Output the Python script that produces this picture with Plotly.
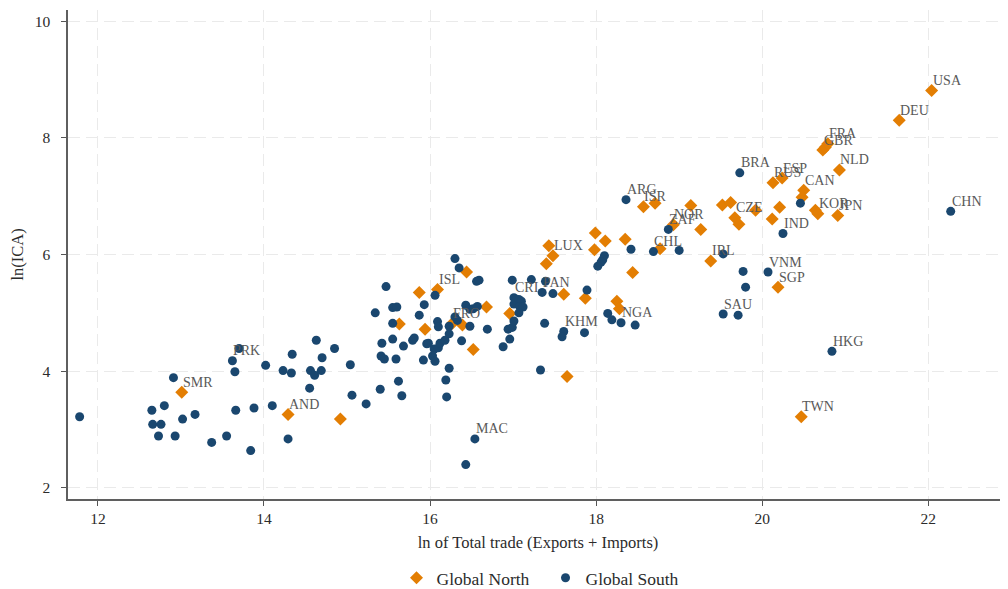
import plotly.graph_objects as go

# ---- Global North (diamonds) ----
north_x = [13.01, 14.29, 14.92, 15.63, 15.87, 15.94, 16.09, 16.44, 16.27, 16.39,
           16.68, 16.52, 16.96, 17.65, 17.43, 17.48, 17.40, 17.61, 17.87, 17.99,
           18.11, 17.98, 18.35, 18.44, 18.25, 18.28, 18.57, 18.71, 18.77, 18.93,
           19.14, 19.26, 19.38, 19.52, 19.62, 19.67, 19.72, 19.92, 20.12, 20.13,
           20.24, 20.21, 20.50, 20.48, 20.19, 20.64, 20.67, 20.91, 20.93, 20.73,
           20.76, 20.79, 21.65, 22.04, 20.47]
north_y = [3.64, 3.26, 3.18, 4.81, 5.35, 4.72, 5.40, 5.70, 4.82, 4.79,
           5.10, 4.37, 4.99, 3.91, 6.15, 5.98, 5.84, 5.32, 5.25, 6.37,
           6.23, 6.08, 6.26, 5.69, 5.20, 5.07, 6.82, 6.88, 6.10, 6.51,
           6.84, 6.43, 5.89, 6.85, 6.89, 6.63, 6.52, 6.76, 6.61, 7.23,
           7.31, 6.81, 7.10, 6.98, 5.44, 6.76, 6.70, 6.67, 7.45, 7.79,
           7.84, 7.90, 8.30, 8.81, 3.22]
north_lbl = ["SMR", "AND", "", "", "", "", "ISL", "", "FRO", "",
             "", "", "", "", "", "LUX", "", "", "", "",
             "", "", "", "", "", "", "ISR", "", "", "NOR",
             "", "", "IRL", "", "", "CZE", "", "", "", "RUS",
             "ESP", "", "CAN", "", "SGP", "", "KOR", "JPN", "NLD", "GBR",
             "", "FRA", "DEU", "USA", "TWN"]

# ---- Global South (circles) ----
south_x = [11.78, 12.91, 12.65, 12.80, 12.66, 12.76, 12.73, 12.93, 13.02, 13.17,
           13.37, 13.55, 13.84, 13.66, 13.88, 14.10, 14.29, 15.06, 13.70, 13.62,
           13.65, 14.02, 14.23, 14.34, 14.33, 14.63, 14.56, 14.61, 14.69, 14.70,
           14.55, 14.85, 15.04, 15.23, 15.40, 15.66, 15.62, 16.23, 16.19, 16.20,
           16.54, 16.43, 17.33, 15.34, 15.47, 15.55, 15.60, 15.55, 15.42, 15.55,
           15.68, 15.41, 15.45, 15.59, 15.79, 15.81, 15.87, 15.93, 15.96, 15.98,
           15.92, 16.03, 16.06, 16.05, 16.10, 16.12, 16.18, 16.23, 16.23, 16.09,
           16.10, 16.06, 16.30, 16.35, 16.56, 16.59, 16.30, 16.33, 16.43, 16.48,
           16.52, 16.57, 16.48, 16.69, 16.38, 16.88, 16.96, 16.94, 16.99, 17.01,
           16.99, 17.01, 17.04, 17.01, 17.07, 17.10, 17.08, 17.12, 17.07, 17.22,
           17.39, 17.35, 17.48, 17.89, 17.38, 17.61, 17.59, 17.86, 18.42, 18.10,
           18.08, 18.06, 18.02, 18.14, 18.19, 18.30, 18.47, 18.36, 18.69, 18.87,
           19.00, 19.53, 19.73, 20.46, 20.25, 22.27, 20.07, 19.77, 19.80, 19.53,
           19.71, 20.84]
south_y = [3.22, 3.89, 3.33, 3.41, 3.09, 3.09, 2.89, 2.89, 3.18, 3.26,
           2.78, 2.89, 2.64, 3.33, 3.37, 3.41, 2.84, 3.59, 4.39, 4.18,
           3.99, 4.10, 4.01, 4.29, 3.97, 4.53, 4.01, 3.93, 4.01, 4.23,
           3.71, 4.39, 4.11, 3.44, 3.69, 3.58, 3.83, 4.05, 3.85, 3.56,
           2.84, 2.40, 4.02, 5.00, 5.45, 5.09, 5.10, 4.82, 4.48, 4.55,
           4.43, 4.26, 4.21, 4.21, 4.53, 4.57, 4.96, 5.14, 4.47, 4.48,
           4.19, 4.26, 4.17, 4.38, 4.40, 4.48, 4.53, 4.64, 4.77, 4.85,
           4.76, 5.30, 5.93, 5.77, 5.54, 5.56, 4.93, 4.87, 5.13, 5.06,
           5.07, 5.11, 4.77, 4.72, 4.52, 4.42, 4.55, 4.72, 4.75, 4.86,
           5.56, 5.26, 5.23, 5.15, 5.23, 5.20, 5.11, 5.10, 5.00, 5.57,
           5.54, 5.35, 5.33, 5.39, 4.82, 4.68, 4.59, 4.66, 6.09, 5.98,
           5.91, 5.87, 5.80, 4.99, 4.88, 4.83, 4.79, 6.94, 6.05, 6.43,
           6.07, 6.01, 7.40, 6.88, 6.36, 6.74, 5.70, 5.71, 5.44, 4.98,
           4.96, 4.34]
south_lbl = ["", "", "", "", "", "", "", "", "", "",
             "", "", "", "", "", "", "", "", "", "PRK",
             "", "", "", "", "", "", "", "", "", "",
             "", "", "", "", "", "", "", "", "", "",
             "MAC", "", "", "", "", "", "", "", "", "",
             "", "", "", "", "", "", "", "", "", "",
             "", "", "", "", "", "", "", "", "", "",
             "", "", "", "", "", "", "", "", "", "",
             "", "", "", "", "", "", "", "", "", "",
             "", "CRI", "", "", "", "", "", "", "", "",
             "", "PAN", "", "", "", "KHM", "", "", "", "",
             "", "", "", "", "", "NGA", "", "ARG", "CHL", "ZAF",
             "", "", "BRA", "", "IND", "CHN", "VNM", "", "", "SAU",
             "", "HKG"]

x_ticks = [12, 14, 16, 18, 20, 22]
y_ticks = [2, 4, 6, 8, 10]

ORANGE = "#E37E03"
NAVY = "#1A476F"
FONT = "Liberation Serif"

fig = go.Figure()
fig.add_trace(go.Scatter(
    x=north_x, y=north_y, mode="markers", name="Global North",
    marker=dict(symbol="diamond", size=10, color=ORANGE, line=dict(width=0)),
))
fig.add_trace(go.Scatter(
    x=south_x, y=south_y, mode="markers", name="Global South",
    marker=dict(symbol="circle", size=9, color=NAVY, line=dict(width=0)),
))

# point labels (marker label to the upper right of each labelled point)
annotations = []
for xs, ys, ls in ((north_x, north_y, north_lbl), (south_x, south_y, south_lbl)):
    for xv, yv, lb in zip(xs, ys, ls):
        if lb:
            annotations.append(dict(
                x=xv, y=yv, xref="x", yref="y", text=lb, showarrow=False,
                xanchor="left", yanchor="middle", xshift=-1, yshift=10,
                font=dict(family=FONT, size=14, color="#595959"),
            ))

axis_common = dict(
    showline=True, linecolor="#5f5f5f", linewidth=1.5,
    ticks="outside", ticklen=5, tickcolor="#555555", tickwidth=1.2,
    showgrid=True, gridcolor="#EAEAEA", gridwidth=1.2, griddash="12px,6px",
    zeroline=False, automargin=False,
    tickfont=dict(family=FONT, size=15.5, color="#2b2b2b"),
)

fig.update_layout(
    width=1008, height=589,
    margin=dict(l=60, r=8, t=2, b=97),
    paper_bgcolor="white", plot_bgcolor="white",
    font=dict(family=FONT, color="#333333"),
    showlegend=True,
    annotations=annotations,
    legend=dict(orientation="h", x=0.508, xanchor="center", y=-0.159, yanchor="middle",
                font=dict(family=FONT, size=17.5, color="#2b2b2b"),
                entrywidth=104, entrywidthmode="pixels",
                bgcolor="rgba(0,0,0,0)"),
    xaxis=dict(range=[11.64, 22.96], tickvals=x_ticks,
               title=dict(text="ln of Total trade (Exports + Imports)",
                          font=dict(family=FONT, size=16.5, color="#2b2b2b"), standoff=10),
               **axis_common),
    yaxis=dict(range=[1.81, 10.19], tickvals=y_ticks, ticklabelstandoff=8,
               title=dict(text="ln(ICA)", font=dict(family=FONT, size=16.5, color="#2b2b2b"),
                          standoff=7),
               **axis_common),
)

fig.write_html("out.html")
